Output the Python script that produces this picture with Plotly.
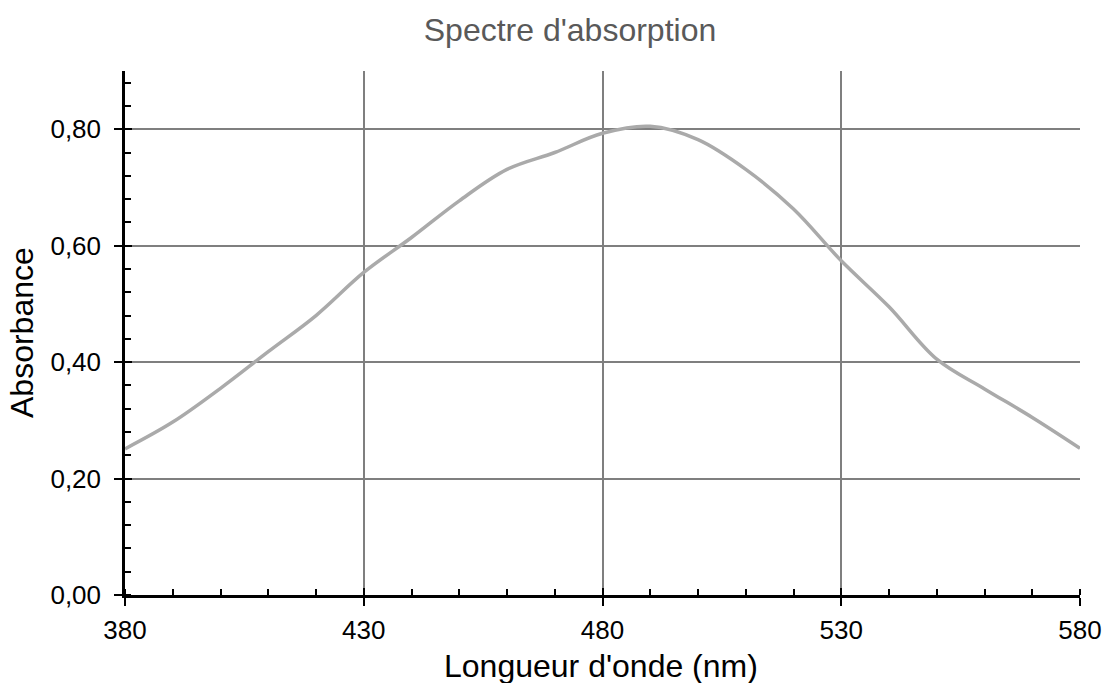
import plotly.graph_objects as go

wavelength = [380, 390, 400, 410, 420, 430, 440, 450, 460, 470, 480, 490, 500, 510, 520, 530, 540, 550, 560, 570, 580]
absorbance = [0.251, 0.297, 0.355, 0.418, 0.480, 0.554, 0.614, 0.677, 0.731, 0.760, 0.793, 0.805, 0.782, 0.731, 0.663, 0.574, 0.495, 0.405, 0.354, 0.305, 0.252]

x_ticks = [380, 430, 480, 530, 580]
y_ticks = [0.0, 0.2, 0.4, 0.6, 0.8]
x_range = [380, 580]
y_range = [0, 0.9]

FONT = "Liberation Sans, Arial, sans-serif"
W, H = 1103, 683
L, R, T, B = 125, 23, 71, 88

fig = go.Figure()
fig.add_trace(go.Scatter(
    x=wavelength, y=absorbance, mode="lines",
    line=dict(color="#aaaaaa", width=3.5, shape="spline", smoothing=1.0),
    hoverinfo="skip", showlegend=False,
))
# invisible trace on overlay axes (used only to draw the inner half of the major ticks)
fig.add_trace(go.Scatter(
    x=[x_range[0]], y=[y_range[0]], xaxis="x2", yaxis="y2", mode="markers",
    marker=dict(opacity=0), hoverinfo="skip", showlegend=False,
))

fig.update_layout(
    width=W, height=H,
    margin=dict(l=L, r=R, t=T, b=B, autoexpand=False),
    paper_bgcolor="white", plot_bgcolor="white",
    separators=", ",
    font=dict(family=FONT, color="black"),
    title=dict(text="Spectre d'absorption", x=570 / W, xref="container", xanchor="center",
               y=1 - 30 / H, yref="container", yanchor="middle",
               font=dict(family=FONT, size=32, color="#595959")),
    xaxis=dict(
        range=x_range, tickvals=x_ticks, ticktext=[str(v) for v in x_ticks],
        showgrid=True, gridcolor="#7f7f7f", gridwidth=2,
        showline=True, linecolor="black", linewidth=2.5,
        ticks="outside", ticklen=8, tickwidth=2, tickcolor="black",
        ticklabelstandoff=2,
        tickfont=dict(size=26, color="black"),
        minor=dict(dtick=10, tick0=380, ticks="inside", ticklen=6, tickwidth=2, tickcolor="black", showgrid=False),
        zeroline=False, automargin=False,
    ),
    yaxis=dict(
        range=y_range, tickvals=y_ticks, tickformat=".2f",
        showgrid=True, gridcolor="#7f7f7f", gridwidth=2,
        showline=True, linecolor="black", linewidth=2.5,
        ticks="outside", ticklen=8, tickwidth=2, tickcolor="black",
        ticklabelstandoff=8,
        tickfont=dict(size=26, color="black"),
        minor=dict(dtick=0.04, tick0=0, ticks="inside", ticklen=6, tickwidth=2, tickcolor="black", showgrid=False),
        zeroline=False, automargin=False,
    ),
    xaxis2=dict(
        overlaying="x", anchor="y2", side="bottom", range=x_range, tickvals=x_ticks,
        ticks="inside", ticklen=7, tickwidth=2, tickcolor="black",
        showticklabels=False, showgrid=False, showline=False, zeroline=False,
    ),
    yaxis2=dict(
        overlaying="y", anchor="x2", side="left", range=y_range, tickvals=y_ticks,
        ticks="inside", ticklen=7, tickwidth=2, tickcolor="black",
        showticklabels=False, showgrid=False, showline=False, zeroline=False,
    ),
    annotations=[
        dict(text="Longueur d'onde (nm)", xref="paper", yref="paper", x=0.498, y=0,
             xanchor="center", yanchor="middle", yshift=-71, showarrow=False,
             font=dict(family=FONT, size=32, color="black")),
        dict(text="Absorbance", xref="paper", yref="paper", x=0, y=0.501,
             xanchor="center", yanchor="middle", xshift=-102.5, textangle=-90, showarrow=False,
             font=dict(family=FONT, size=32, color="black")),
    ],
)

fig.write_html(
    "out.html",
    config={"displayModeBar": False},
    post_script="document.body.style.margin='0';document.body.style.overflow='hidden';",
)
